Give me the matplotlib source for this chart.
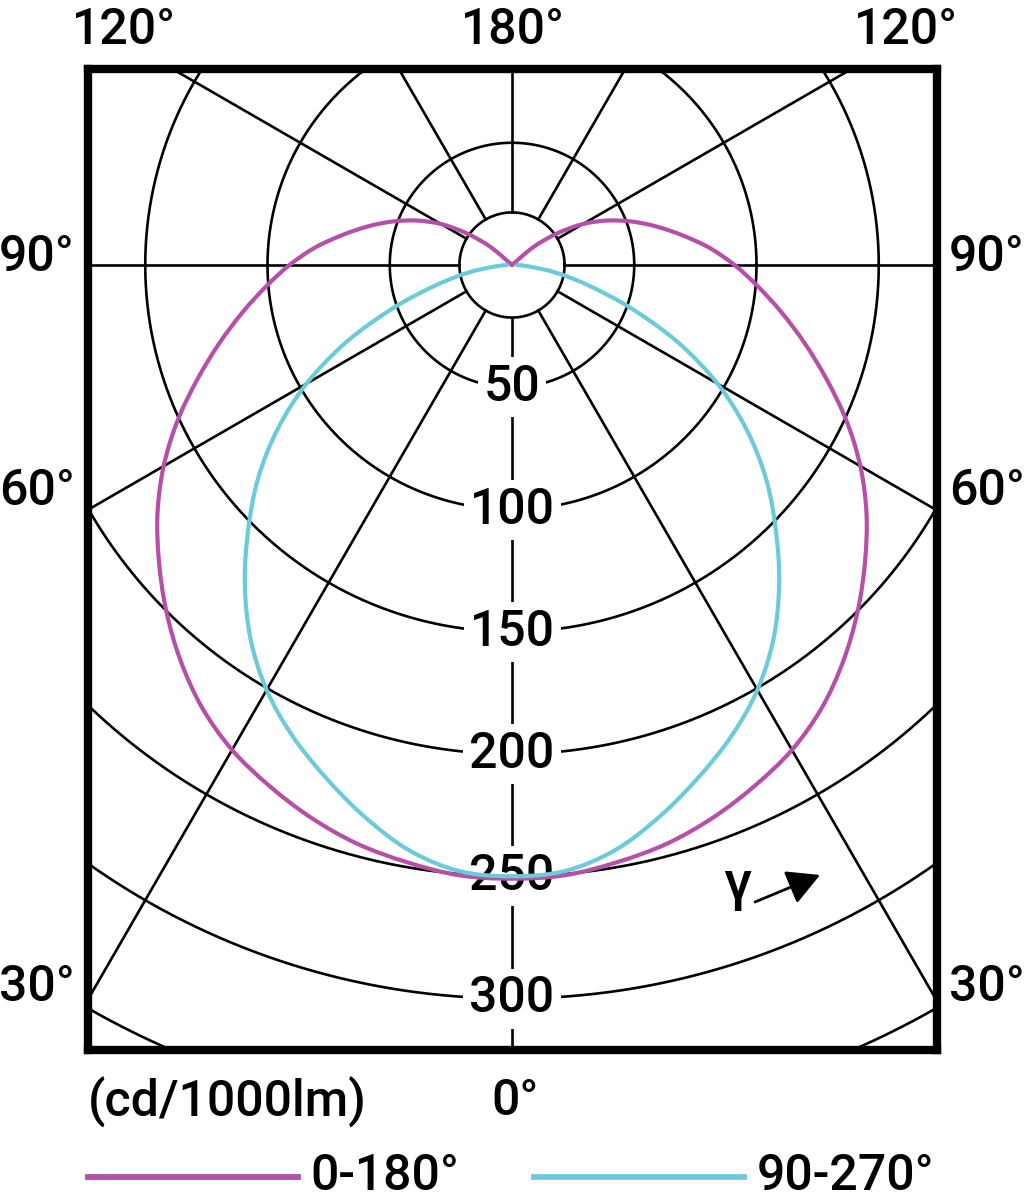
import numpy as np
import matplotlib.pyplot as plt
from matplotlib.lines import Line2D
from matplotlib.path import Path
from matplotlib.patches import PathPatch

# light distribution, cd/1000lm
# gamma in degrees, 0 = straight down, 180 = straight up
gamma_c0 = [0, 5, 10, 15, 20, 25, 30, 35, 40, 45, 50, 55, 60, 65, 70, 75,
            80, 85, 90, 95, 100, 105, 110, 115, 120, 125, 130, 135]
cd_c0 = [251, 250.5, 248, 245, 240.5, 235, 229, 221, 211, 200, 188.5, 177,
         164.5, 151, 137, 124, 112, 101, 91, 81, 70.5, 61, 52, 43, 33.5, 22.5,
         11.5, 0]

gamma_c90 = [0, 5, 10, 15, 20, 25, 30, 35, 40, 45, 50, 55, 60, 65, 70, 75,
             80, 85, 90]
cd_c90 = [250, 248.8, 243, 233.5, 223, 212.5, 200.7, 186.5, 170, 152.5, 135.5,
          117, 97, 75, 52, 32.5, 18.5, 7, 2]

ring_values = [50, 100, 150, 200, 250, 300, 350]
ring_labels = ['50', '100', '150', '200', '250', '300']
spoke_angles = [30, 60, 90, 120, 150]
legend_labels = ['0-180°', '90-270°']

magenta = '#b64fa8'
cyan = '#6ccbdb'

plt.rcParams['font.family'] = ['Roboto', 'Liberation Sans', 'DejaVu Sans']
plt.rcParams['font.weight'] = 'medium'

W, H = 1024, 1198
fig = plt.figure(figsize=(W / 100, H / 100), dpi=100)

# box of the diagram in pixels: x 88..937, y 69..1050, grid centre at (512, 265)
px = 2.445  # pixels per cd/1000lm
ax = fig.add_axes([88 / W, 1 - 1050 / H, (937 - 88) / W, (1050 - 69) / H])
ax.set_xlim((88 - 512) / px, (937 - 512) / px)
ax.set_ylim(-(1050 - 265) / px, (265 - 69) / px)
ax.set_xticks([])
ax.set_yticks([])
for s in ax.spines.values():
    s.set_linewidth(6)


def to_xy(g, r):
    g = np.radians(np.asarray(g, dtype=float))
    r = np.asarray(r, dtype=float)
    return r * np.sin(g), -r * np.cos(g)


def smooth_path(x, y):
    # catmull-rom through the read points, drawn as bezier segments
    pts = np.column_stack([x, y])
    n = len(pts)
    verts = [pts[0]]
    codes = [Path.MOVETO]
    for i in range(n - 1):
        p0 = pts[max(i - 1, 0)]
        p1 = pts[i]
        p2 = pts[i + 1]
        p3 = pts[min(i + 2, n - 1)]
        verts += [p1 + (p2 - p0) / 6, p2 - (p3 - p1) / 6, p2]
        codes += [Path.CURVE4] * 3
    return Path(verts, codes)


# grid
t = np.linspace(0, 2 * np.pi, 721)
r0 = 21.5
grid_kw = dict(color='black', lw=1.9, zorder=1)
for r in ring_values + [r0]:
    ax.plot(r * np.cos(t), r * np.sin(t), **grid_kw)
for g in spoke_angles:
    x, y = to_xy([g, g], [r0, 600])
    ax.plot(x, y, **grid_kw)
    ax.plot(-x, y, **grid_kw)
ax.plot([0, 0], [-r0, -600], **grid_kw)
ax.plot([0, 0], [r0, 600], **grid_kw)

for r, lab in zip(ring_values, ring_labels):
    ax.text(0, -r, lab, ha='center', va='center', fontsize=36, zorder=3,
            bbox=dict(boxstyle='square,pad=0.12', fc='white', ec='none'))

# curves, mirrored about the vertical axis
for gam, cd, col in [(gamma_c0, cd_c0, magenta), (gamma_c90, cd_c90, cyan)]:
    x, y = to_xy(gam, cd)
    xs = np.concatenate([-x[::-1], x[1:]])
    ys = np.concatenate([y[::-1], y[1:]])
    ax.add_patch(PathPatch(smooth_path(xs, ys), fill=False, edgecolor=col,
                           lw=3, zorder=4, joinstyle='round', capstyle='round'))

# gamma arrow
ax.annotate('', xy=((820 - 512) / px, -(875 - 265) / px),
            xytext=((755 - 512) / px, -(902 - 265) / px),
            arrowprops=dict(arrowstyle='-|>,head_length=0.5,head_width=0.27',
                            color='black', lw=2, mutation_scale=40,
                            shrinkA=0, shrinkB=0), zorder=5)


def ftext(x, y, s, **kw):
    fig.text(x / W, 1 - y / H, s, **kw)


ftext(737, 900, 'γ', ha='center', va='baseline', fontsize=40)

# angle labels round the box
ftext(124, 44, '120°', ha='center', va='baseline', fontsize=36)
ftext(513, 44, '180°', ha='center', va='baseline', fontsize=36)
ftext(906, 44, '120°', ha='center', va='baseline', fontsize=36)
for lab, yb in [('90°', 271), ('60°', 505), ('30°', 1001)]:
    ftext(-1, yb, lab, ha='left', va='baseline', fontsize=36)
    ftext(949, yb, lab, ha='left', va='baseline', fontsize=36)
ftext(515, 1115, '0°', ha='center', va='baseline', fontsize=36)
ftext(88, 1117, '(cd/1000lm)', ha='left', va='baseline', fontsize=36)

handles = [Line2D([], [], color=magenta, lw=4.2), Line2D([], [], color=cyan, lw=4.2)]
fig.legend(handles, legend_labels, loc='upper left',
           bbox_to_anchor=(88 / W, 1 - 1152 / H), ncol=2, frameon=False,
           fontsize=36, handlelength=4.2, handleheight=0.05, handletextpad=0.25,
           columnspacing=1.5, borderpad=0, borderaxespad=0)

fig.savefig('out.png', dpi=100)
